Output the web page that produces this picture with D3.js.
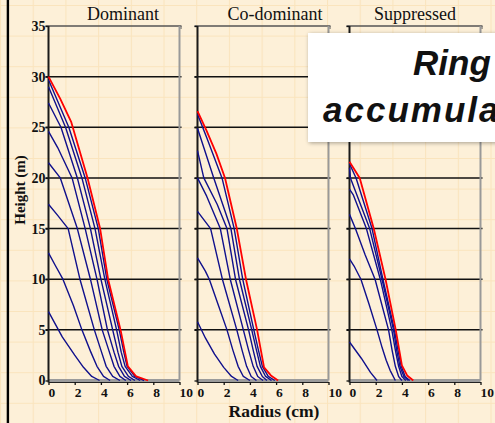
<!DOCTYPE html>
<html>
<head>
<meta charset="utf-8">
<title>stem profiles</title>
<script src="https://d3js.org/d3.v7.min.js"></script>
<style>
body { margin: 0; background: #fdf0d8; }
svg { display: block; }
text { font-family: "Liberation Serif", "Times New Roman", serif; }
text.caption { font-family: "Liberation Sans", Arial, sans-serif; font-weight: bold; font-style: italic; }
</style>
</head>
<body>
<svg id="chart" width="495" height="423"></svg>
<script>
// panel titles and ticks
const titles = ["Dominant", "Co-dominant", "Suppressed"];
const titleX = [123, 275, 415];
const panelLeft = [48.5, 197.5, 349.5];
const xTicks = [0, 2, 4, 6, 8, 10];
const yTicks = [0, 5, 10, 15, 20, 25, 30, 35];
const gridValues = [5, 10, 15, 20, 25, 30];

// stem profiles, [radius cm, height m]
const dominantBlue = [
  [[0,6.8],[1.05,4.3],[2.0,2.5],[2.67,1.3],[3.3,0.4],[3.9,0]],
  [[0,12.6],[0.5,11.4],[1.1,10],[1.9,7.4],[2.55,5],[3.2,2.9],[3.7,1.4],[4.2,0.4],[4.7,0]],
  [[0,17.4],[0.7,16.3],[1.5,15],[2.4,10],[3.5,5],[4.0,3.0],[4.4,1.4],[4.9,0.4],[5.45,0]],
  [[0,21.5],[0.9,20],[2.2,15],[3.2,10],[4.1,5],[4.6,3.0],[5.0,1.4],[5.45,0.4],[5.9,0]],
  [[0,24.6],[0.7,23],[1.8,20],[2.8,15],[3.7,10],[4.5,5],[5.0,2.8],[5.35,1.4],[5.8,0.4],[6.3,0]],
  [[0,27.4],[0.95,25],[2.2,20],[3.2,15],[4.0,10],[4.9,5],[5.3,2.8],[5.6,1.4],[6.1,0.4],[6.6,0]],
  [[0,29.0],[1.3,25],[2.55,20],[3.55,15],[4.3,10],[5.2,5],[5.55,2.8],[5.85,1.4],[6.4,0.4],[7.0,0]],
  [[0,29.7],[1.55,25],[2.8,20],[3.8,15],[4.45,10],[5.4,5],[5.75,2.8],[6.0,1.4],[6.6,0.4],[7.3,0]]
];
const dominantRed = [[0,30],[0.9,27.8],[1.74,25.5],[2.98,20],[3.94,15],[4.55,10],[5.5,5],[6.06,1.4],[6.7,0.4],[7.6,0]];

const codominantBlue = [
  [[0,5.8],[0.6,4.2],[1.3,2.6],[2.0,1.3],[2.6,0.4],[3.1,0]],
  [[0,12.1],[0.6,10.8],[0.9,10],[1.6,7.4],[2.25,5],[2.7,3.0],[3.1,1.4],[3.5,0.4],[4.0,0]],
  [[0,16.7],[1.0,15],[1.9,10],[3.0,5],[3.4,3.0],[3.75,1.4],[4.1,0.4],[4.5,0]],
  [[0,20.0],[0.7,18.2],[1.74,15],[2.5,10],[3.5,5],[3.9,3.0],[4.25,1.4],[4.6,0.4],[5.0,0]],
  [[0,22.7],[0.48,20],[1.5,17.4],[2.25,15],[2.9,10],[3.9,5],[4.25,3.0],[4.55,1.4],[4.95,0.4],[5.3,0]],
  [[0,24.9],[1.24,20],[2.55,15],[3.2,10],[4.14,5],[4.5,3.0],[4.8,1.4],[5.2,0.4],[5.65,0]],
  [[0,26.3],[0.7,24],[1.87,20],[2.8,15],[3.45,10],[4.3,5],[4.65,3.0],[4.95,1.4],[5.4,0.4],[5.9,0]]
];
const codominantRed = [[0,26.6],[0.68,24.7],[1.44,22.4],[2.1,20],[3.0,15],[3.7,10],[4.55,5],[5.08,1.3],[5.6,0.5],[6.15,0]];

const suppressedBlue = [
  [[0,3.8],[0.9,2.2],[1.6,0.8],[2.1,0]],
  [[0,12.0],[0.35,11.3],[0.87,10],[1.5,7.5],[2.1,5],[2.5,3.2],[2.8,2.0],[3.1,1.0],[3.5,0]],
  [[0,16.4],[0.45,15],[1.2,12.4],[1.95,10],[2.98,5],[3.25,3.0],[3.5,1.4],[3.75,0.4],[4.0,0]],
  [[0,18.9],[0.3,18.3],[1.29,15],[2.35,10],[3.23,5],[3.5,3.0],[3.75,1.4],[4.0,0.4],[4.3,0]],
  [[0,21.0],[0.07,20],[1.54,15],[2.48,10],[3.36,5],[3.6,3.0],[3.85,1.4],[4.15,0.4],[4.5,0]],
  [[0,21.4],[0.5,20],[1.72,15],[2.55,10],[3.43,5],[3.7,3.0],[3.95,1.4],[4.25,0.4],[4.6,0]]
];
const suppressedRed = [[0,21.6],[0.78,20],[1.85,15],[2.75,10],[3.53,5],[4.0,1.5],[4.4,0.5],[4.87,0]];

const panels = [
  {blue: dominantBlue, red: dominantRed},
  {blue: codominantBlue, red: codominantRed},
  {blue: suppressedBlue, red: suppressedRed}
];

const svg = d3.select("#chart");
const W = 131;

// paper background with faint grid
const defs = svg.append("defs");
const pat = defs.append("pattern")
    .attr("id", "paper")
    .attr("patternUnits", "userSpaceOnUse")
    .attr("x", 0).attr("y", 5)
    .attr("width", 32.7).attr("height", 30.6);
pat.append("rect").attr("width", 32.7).attr("height", 30.6).attr("fill", "#fdf0d8");
pat.append("line").attr("x1", 0.5).attr("x2", 0.5).attr("y1", 0).attr("y2", 30.6)
    .attr("stroke", "#fae4bd").attr("stroke-width", 1);
pat.append("line").attr("y1", 0.5).attr("y2", 0.5).attr("x1", 0).attr("x2", 32.7)
    .attr("stroke", "#fae4bd").attr("stroke-width", 1);

// drop shadow for the overlay box
const filter = defs.append("filter").attr("id", "shadow")
    .attr("x", "-10%").attr("y", "-10%").attr("width", "130%").attr("height", "130%");
filter.append("feGaussianBlur").attr("in", "SourceAlpha").attr("stdDeviation", 2).attr("result", "blur");
filter.append("feOffset").attr("in", "blur").attr("dx", 1).attr("dy", 1).attr("result", "offsetBlur");
filter.append("feComponentTransfer").attr("in", "offsetBlur").attr("result", "soft")
  .append("feFuncA").attr("type", "linear").attr("slope", 0.35);
const feMerge = filter.append("feMerge");
feMerge.append("feMergeNode").attr("in", "soft");
feMerge.append("feMergeNode").attr("in", "SourceGraphic");

svg.append("rect").attr("width", 495).attr("height", 423).attr("fill", "url(#paper)");

const x = d3.scaleLinear().domain([0, 10]).range([0, W]);
const y = d3.scaleLinear().domain([0, 35]).range([380.5, 26]);

const line = d3.line()
    .x(d => x(d[0]))
    .y(d => y(d[1]));

panels.forEach((p, i) => {
  const g = svg.append("g").attr("transform", `translate(${panelLeft[i]},0)`);

  // horizontal rules
  g.selectAll(".grid").data(gridValues).join("line")
      .attr("x1", -3).attr("x2", W + 2)
      .attr("y1", d => y(d)).attr("y2", d => y(d))
      .attr("stroke", "#111").attr("stroke-width", 1.5);

  // top border
  g.append("line").attr("x1", -3).attr("x2", W + 2)
      .attr("y1", y(35)).attr("y2", y(35))
      .attr("stroke", "#555").attr("stroke-width", 1.3);
  g.append("line").attr("x1", W + 1.5).attr("x2", W + 1.5)
      .attr("y1", y(35)).attr("y2", y(35) + 3)
      .attr("stroke", "#555").attr("stroke-width", 1);

  // right border
  g.append("line").attr("x1", W).attr("x2", W)
      .attr("y1", y(35)).attr("y2", y(0))
      .attr("stroke", "#999").attr("stroke-width", 2);

  // bottom grey band
  g.append("line").attr("x1", 0).attr("x2", W)
      .attr("y1", y(0)).attr("y2", y(0))
      .attr("stroke", "#9b9b9b").attr("stroke-width", 3);

  // x axis
  const xa = g.append("g").attr("transform", `translate(0,${y(0) + 1.5})`)
      .call(d3.axisBottom(x).tickValues(xTicks).tickSize(3).tickSizeOuter(0).tickPadding(2));
  xa.select(".domain").attr("stroke", "#222").attr("stroke-width", 1);
  xa.selectAll(".tick line").attr("stroke", "#111").attr("stroke-width", 1.3);
  xa.selectAll(".tick text")
      .attr("text-anchor", "start").attr("dx", "-0.5")
      .attr("font-family", "Liberation Serif, serif")
      .attr("font-size", 13.5).attr("font-weight", "bold").attr("fill", "#111");

  // y axis
  const ya = g.append("g")
      .call(d3.axisLeft(y).tickValues(yTicks).tickSize(3).tickPadding(0)
        .tickFormat(i === 0 ? d3.format("d") : ""));
  ya.select(".domain").remove();
  ya.selectAll(".tick line").attr("stroke", "#111").attr("stroke-width", 1.3);
  ya.selectAll(".tick text")
      .attr("font-family", "Liberation Serif, serif")
      .attr("font-size", 14).attr("font-weight", "bold").attr("fill", "#111");
  g.append("line").attr("x1", 0).attr("x2", 0)
      .attr("y1", y(35)).attr("y2", y(0) + 2)
      .attr("stroke", "#1a1a1a").attr("stroke-width", 2);

  // profiles
  g.selectAll(".blue").data(p.blue).join("path")
      .attr("d", line)
      .attr("fill", "none").attr("stroke", "#10108c").attr("stroke-width", 1.4)
      .attr("stroke-linejoin", "round");
  g.append("path").datum(p.red)
      .attr("d", line)
      .attr("fill", "none").attr("stroke", "#ff0000").attr("stroke-width", 1.8)
      .attr("stroke-linejoin", "round");

  // panel title
  svg.append("text").attr("x", titleX[i]).attr("y", 19.5)
      .attr("text-anchor", "middle").attr("font-size", 18).attr("fill", "#111")
      .text(titles[i]);
});

// axis titles
svg.append("text")
    .attr("transform", "translate(25,190) rotate(-90)")
    .attr("text-anchor", "middle").attr("font-size", 15).attr("font-weight", "bold")
    .attr("fill", "#111").text("Height (m)");
svg.append("text")
    .attr("x", 274).attr("y", 417)
    .attr("text-anchor", "middle").attr("font-size", 17.5).attr("font-weight", "bold")
    .attr("fill", "#111").text("Radius (cm)");

// left border
svg.append("rect").attr("x", 6.7).attr("y", 0).attr("width", 2.4).attr("height", 423).attr("fill", "#000");

// overlay caption box
svg.append("rect").attr("x", 308).attr("y", 33).attr("width", 200).attr("height", 109)
    .attr("fill", "#fff").style("filter", "url(#shadow)");
const cap = svg.append("g").attr("font-size", 35).attr("fill", "#111");
cap.append("text").attr("class", "caption").attr("x", 413).attr("y", 75).text("Ring");
cap.append("text").attr("class", "caption").attr("x", 323).attr("y", 122)
    .style("letter-spacing", "2px").text("accumulation");
</script>
</body>
</html>
